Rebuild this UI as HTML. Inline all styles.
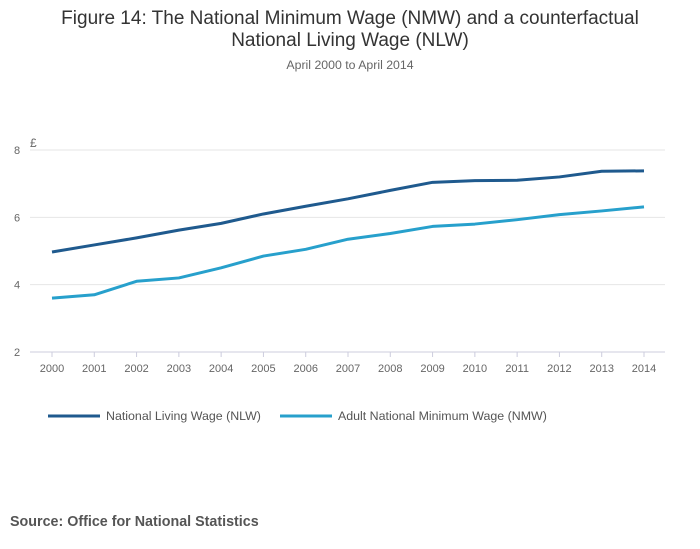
<!DOCTYPE html>
<html><head><meta charset="utf-8"><style>
body{margin:0;background:#fff;font-family:"Liberation Sans",sans-serif;}
#wrap{position:relative;width:700px;height:549px;overflow:hidden;}
</style></head><body>
<div id="wrap">
<svg id="chart" width="700" height="549">
<text x="350" y="24" text-anchor="middle" font-size="19" fill="#333">Figure 14: The National Minimum Wage (NMW) and a counterfactual</text>
<text x="350" y="46" text-anchor="middle" font-size="19" fill="#333">National Living Wage (NLW)</text>
<text x="350" y="69" text-anchor="middle" font-size="12.3" fill="#666">April 2000 to April 2014</text>
<text x="30" y="147" font-size="12" fill="#666">£</text>
<g id="grid"></g><g id="series"></g><g id="xticks"></g>
<g>
<line x1="48" y1="416" x2="100" y2="416" stroke="#1f5a8e" stroke-width="3"/>
<text x="106" y="420" font-size="12.4" fill="#555">National Living Wage (NLW)</text>
<line x1="280" y1="416" x2="332" y2="416" stroke="#27a0cc" stroke-width="3"/>
<text x="338" y="420" font-size="12.4" fill="#555">Adult National Minimum Wage (NMW)</text>
</g>
<text x="10" y="526" font-size="14.3" font-weight="bold" fill="#555">Source: Office for National Statistics</text>
</svg>
</div>
<script>
const years=[2000,2001,2002,2003,2004,2005,2006,2007,2008,2009,2010,2011,2012,2013,2014];
const nlwValues=[4.97,5.18,5.39,5.62,5.82,6.10,6.33,6.55,6.80,7.04,7.09,7.10,7.20,7.37,7.38];
const nmwValues=[3.60,3.70,4.10,4.20,4.50,4.85,5.05,5.35,5.52,5.73,5.80,5.93,6.08,6.19,6.31];
const yTicks=[2,4,6,8];
const NS="http://www.w3.org/2000/svg";
const x0=52,x1=644,yMin=2,yMax=8,py0=352,py1=150;
function xs(i){return x0+(x1-x0)*i/(years.length-1);}
function ys(v){return py0-(v-yMin)/(yMax-yMin)*(py0-py1);}
function mk(tag,attrs,parent){const e=document.createElementNS(NS,tag);for(const k in attrs)e.setAttribute(k,attrs[k]);parent.appendChild(e);return e;}
const grid=document.getElementById('grid');
yTicks.forEach(t=>{
 const l=mk('line',{x1:30,x2:665,y1:ys(t),y2:ys(t),stroke:t===yMin?'#ccd':'#e6e6e6'},grid);
 
 
 const tx=mk('text',{x:14,y:ys(t)+4,'font-size':11,fill:'#666'},grid);
 tx.textContent=t;
 
 
});
const xt=document.getElementById('xticks');
years.forEach((y,i)=>{
 const l=mk('line',{x1:xs(i),x2:xs(i),y1:py0,y2:py0+5,stroke:'#ccd'},xt);
 
 
 const tx=mk('text',{x:xs(i),y:py0+20,'font-size':11,fill:'#666','text-anchor':'middle'},xt);
 tx.textContent=y;
 
 
});
const sg=document.getElementById('series');
function line(vals,color,name){
 const p=mk('polyline',{points:vals.map((v,i)=>xs(i)+','+ys(v)).join(' '),fill:'none',stroke:color,'stroke-width':3,'stroke-linejoin':'round'},sg);
 
 
}
line(nmwValues,'#27a0cc','nmw-line');
line(nlwValues,'#1f5a8e','nlw-line');
</script>
</body></html>
